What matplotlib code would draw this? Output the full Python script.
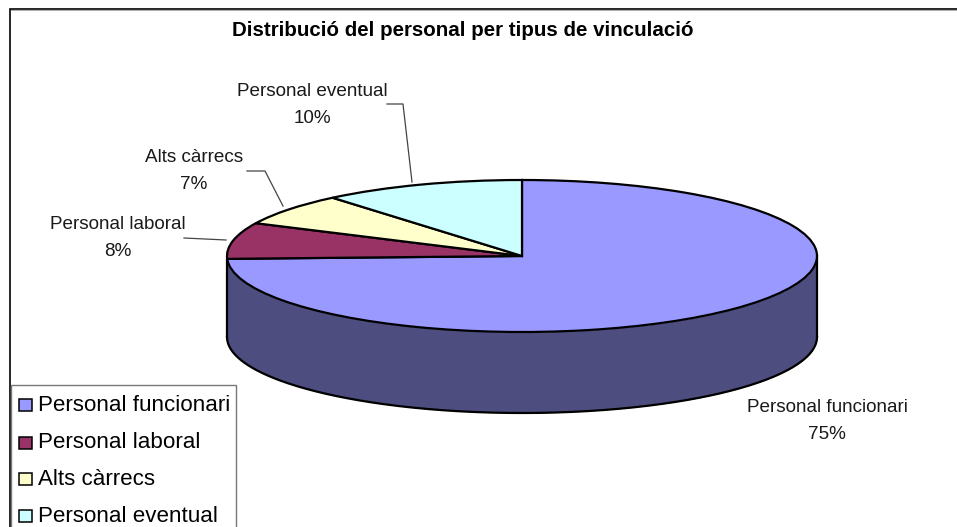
import numpy as np
import matplotlib
matplotlib.use("Agg")
import matplotlib.pyplot as plt
from matplotlib.patches import Rectangle

plt.rcParams['font.family'] = ['Liberation Sans', 'DejaVu Sans']

title = "Distribució del personal per tipus de vinculació"
categories = ["Personal funcionari", "Personal laboral", "Alts càrrecs", "Personal eventual"]
percent_labels = [75, 8, 7, 10]
# slice sizes as they appear on the tilted disc
drawn_shares = [74.4, 7.7, 6.8, 11.1]
colors = ["#9999FF", "#993366", "#FFFFCC", "#CCFFFF"]
side_color = "#4D4D80"

W, H = 957, 527
fig = plt.figure(figsize=(W / 100, H / 100), dpi=100, facecolor="white")

# overlay in pixel coordinates
ov = fig.add_axes([0, 0, 1, 1], zorder=3)
ov.set_xlim(0, W)
ov.set_ylim(H, 0)
ov.axis("off")
ov.patch.set_alpha(0)

# pie axes: unit disc mapped to the ellipse
L, R, T, B = 227, 817, 180, 332
depth = 81
yu = (B - T) / 2
low = -1 - (depth + 4) / yu
ax = fig.add_axes([L / W, 1 - (B + depth + 4) / H, (R - L) / W, (B + depth + 4 - T) / H], zorder=2)
ax.pie(drawn_shares, colors=colors, startangle=90, counterclock=False, radius=1,
       wedgeprops=dict(edgecolor="black", linewidth=1.6, clip_on=False))
ax.set_aspect("auto")
ax.set_xlim(-1, 1)
ax.set_ylim(low, 1)
ax.axis("off")

# side wall, in the colour of the slice facing front
t = np.radians(np.linspace(180, 360, 400))
d = depth / yu
ax.fill_between(np.cos(t), np.sin(t), np.sin(t) - d, color=side_color, zorder=0, clip_on=False, lw=0)
ax.plot(np.cos(t), np.sin(t) - d, color="black", lw=1.6, zorder=0.5, clip_on=False)
ax.plot([-1, -1], [-0.05, -d], color="black", lw=1.6, zorder=0.5, clip_on=False)
ax.plot([1, 1], [0, -d], color="black", lw=1.6, zorder=0.5, clip_on=False)

# chart frame (runs off the right and bottom edges)
ov.plot([10, 10, W], [H, 8.5, 8.5], color="black", lw=1.2, solid_joinstyle="miter")
ov.plot([11, W], [9.8, 9.8], color="#b0b0b0", lw=0.8)

ov.text(463, 30, title, ha="center", va="center", fontsize=14.75, fontweight="bold", color="black")

# data labels
label_pos = [(827, 421), (118, 238), (194, 171), (312, 105)]
for (x, y), cat, p in zip(label_pos, categories, percent_labels):
    ov.text(x, y, f"{cat}\n{p}%", ha="center", va="center", fontsize=13.6,
            color="#1a1a1a", linespacing=1.72)

# leader lines
for xs, ys in [([184, 226], [238, 240]),
               ([247, 265, 283], [171, 171, 206]),
               ([387, 403, 412], [104, 104, 182])]:
    ov.plot(xs, ys, color="#444444", lw=0.9)

# legend
ov.add_patch(Rectangle((10.5, 384.5), 225.5, 150, fc="white", ec="#777777", lw=1.0, zorder=3))
marker_y = [405, 442.5, 479, 516]
text_base = [411, 448, 485, 522]
for my, ty, cat, c in zip(marker_y, text_base, categories, colors):
    ov.add_patch(Rectangle((19, my - 6), 13, 12, fc=c, ec="black", lw=1.1, zorder=4))
    ov.text(38, ty, cat, ha="left", va="baseline", fontsize=16.1, color="black", zorder=4)

fig.savefig("out.png", dpi=100, facecolor="white")
